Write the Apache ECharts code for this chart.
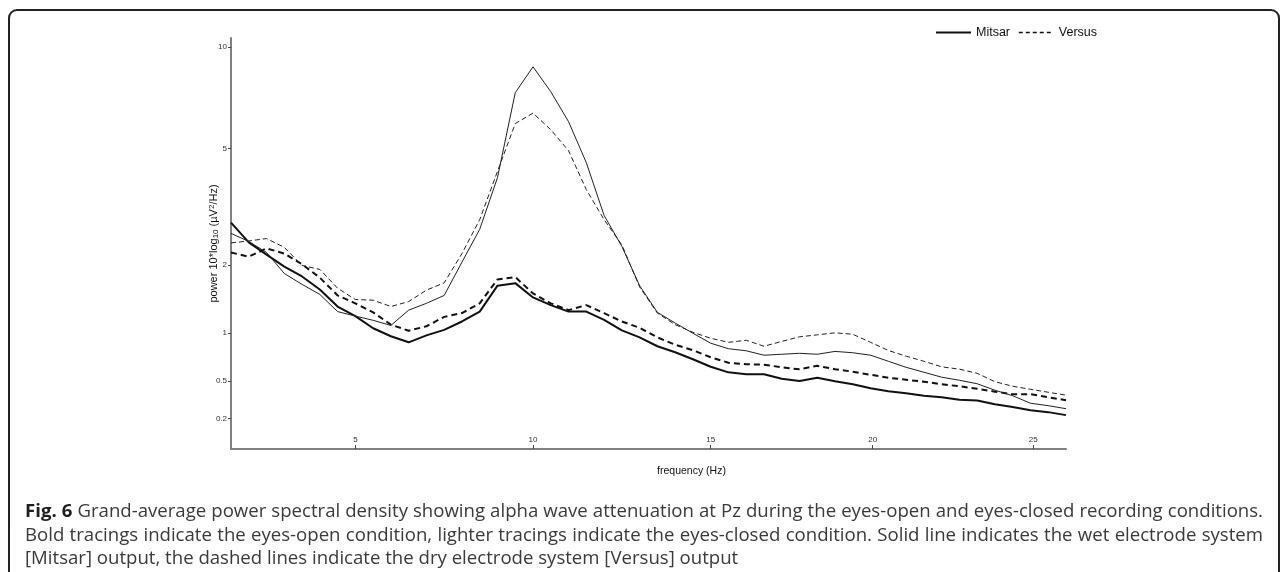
<!DOCTYPE html>
<html><head><meta charset="utf-8">
<script src="https://cdn.jsdelivr.net/npm/echarts@6/dist/echarts.min.js"></script>
<style>html,body{margin:0;padding:0;background:#fff}#c{width:1281px;height:572px}</style>
</head><body><div id="c"></div>
<script>
// frequency bins (Hz)
const freqs = [1.5,2,2.5,3,3.5,4,4.5,5,5.5,6,6.5,7,7.5,8,8.5,9,9.5,10,10.5,11,11.5,12,12.5,13,13.5,14,14.5,15,15.5,16,16.5,17,17.5,18,18.5,19,19.5,20,20.5,21,21.5,22,22.5,23,23.5,24,24.5,25];
// eyes-open (bold)
const mitsarOpen = [2.86,2.43,2.19,1.97,1.8,1.59,1.34,1.21,1.055,0.96,0.89,0.97,1.036,1.14,1.27,1.65,1.69,1.47,1.36,1.27,1.27,1.16,1.03,0.947,0.846,0.781,0.708,0.634,0.58,0.562,0.562,0.521,0.5,0.53,0.498,0.472,0.437,0.412,0.395,0.374,0.362,0.342,0.335,0.306,0.284,0.26,0.246,0.224];
const versusOpen = [2.23,2.15,2.31,2.21,2.01,1.78,1.5,1.385,1.26,1.1,1.025,1.08,1.2,1.25,1.385,1.75,1.79,1.53,1.385,1.29,1.36,1.25,1.14,1.06,0.947,0.862,0.803,0.729,0.673,0.658,0.654,0.628,0.609,0.643,0.61,0.586,0.557,0.53,0.512,0.494,0.472,0.454,0.433,0.408,0.387,0.387,0.362,0.338];
// eyes-closed (light)
const mitsarClosed = [2.62,2.45,2.23,1.85,1.67,1.515,1.27,1.21,1.155,1.09,1.29,1.385,1.5,2.05,2.71,4.05,7.38,8.78,7.43,6.05,4.52,3.03,2.35,1.65,1.26,1.12,0.995,0.88,0.819,0.797,0.75,0.76,0.77,0.76,0.79,0.776,0.75,0.688,0.628,0.581,0.535,0.507,0.476,0.42,0.374,0.314,0.295,0.272];
const versusClosed = [2.42,2.46,2.51,2.33,1.99,1.92,1.61,1.44,1.43,1.34,1.41,1.58,1.695,2.21,2.93,4.24,5.97,6.42,5.72,4.93,3.7,2.93,2.38,1.63,1.25,1.1,1.006,0.936,0.89,0.913,0.846,0.9,0.953,0.976,1.0,0.983,0.89,0.8,0.74,0.688,0.633,0.61,0.571,0.494,0.454,0.428,0.403,0.379];
// tick labels
const yTickLabels = [0.2,0.5,1,2,5,10];
const xTickLabels = ['5','10','15','20','25'];
const xTickAt = [5,10,15,19.56,24.08];
// caption lines (lines 1-2 justified, last line natural)
const captionLines = [
  'Fig. 6 Grand-average power spectral density showing alpha wave attenuation at Pz during the eyes-open and eyes-closed recording conditions.',
  'Bold tracings indicate the eyes-open condition, lighter tracings indicate the eyes-closed condition. Solid line indicates the wet electrode system',
  '[Mitsar] output, the dashed lines indicate the dry electrode system [Versus] output'
];

const tf = v => Math.log10(1 + v);
const pts = arr => freqs.map((f, i) => [f, tf(arr[i])]);
const yTickVals = yTickLabels.map(tf);
const nearestIdx = (arr, v) => { let b = 0; arr.forEach((a, i) => { if (Math.abs(a - v) < Math.abs(arr[b] - v)) b = i; }); return b; };

// caption layout
const capSize = 18.6, capLeft = 25, capRight = 1263, capMid = [512, 535.5, 559];
const cv = document.createElement('canvas').getContext('2d');
const fontOf = b => (b ? 'bold ' : '') + capSize + 'px "Open Sans"';
const capGraphics = [];
captionLines.forEach((line, li) => {
  const words = line.split(' ').map((w, wi) => ({t: w, b: li === 0 && wi < 2}));
  words.forEach(w => { cv.font = fontOf(w.b); w.w = cv.measureText(w.t).width; });
  cv.font = fontOf(false);
  const space = cv.measureText(' ').width;
  const sum = words.reduce((s, w) => s + w.w, 0);
  const gap = li < captionLines.length - 1 ? (capRight - capLeft - sum) / (words.length - 1) : space;
  let x = capLeft;
  words.forEach(w => {
    capGraphics.push({type: 'text', x: x, y: capMid[li], silent: true,
      style: {text: w.t, font: fontOf(w.b), fill: w.b ? '#1e1e1e' : '#3a3a3a', textVerticalAlign: 'middle'}});
    x += w.w + gap;
  });
});

const chart = echarts.init(document.getElementById('c'), null, {renderer: 'canvas'});
const lineBase = {type: 'line', showSymbol: false, symbol: 'none', silent: true, animation: false, itemStyle: {color: '#111'}};
chart.setOption({
  animation: false,
  backgroundColor: '#fff',
  grid: {left: 231, right: 215, top: 38, bottom: 123},
  legend: {
    left: 935, top: 26, padding: 0, itemWidth: 35, itemHeight: 14, itemGap: 8,
    textStyle: {fontFamily: 'Liberation Sans', fontSize: 12.5, color: '#111'},
    data: [
      {name: 'Mitsar', itemStyle: {opacity: 0}, lineStyle: {width: 2, type: 'solid', color: '#111'}},
      {name: 'Versus', itemStyle: {opacity: 0}, lineStyle: {width: 1.5, type: [4, 3], color: '#111'}}
    ]
  },
  xAxis: {
    type: 'value', min: 1.5, max: 25,
    axisLine: {lineStyle: {color: '#808080', width: 2}},
    axisTick: {inside: true, length: 4, customValues: xTickAt, lineStyle: {color: '#444', width: 1}},
    axisLabel: {inside: true, margin: 5, customValues: xTickAt, fontSize: 8, fontFamily: 'Liberation Sans', color: '#333',
      formatter: v => xTickLabels[nearestIdx(xTickAt, v)]},
    splitLine: {show: false},
    name: 'frequency (Hz)', nameLocation: 'middle', nameGap: 17, nameMoveOverlap: false,
    nameTextStyle: {fontFamily: 'Liberation Sans', fontSize: 10.5, color: '#111', padding: [0, 0, 0, 86]}
  },
  yAxis: {
    type: 'value', min: 0, max: 1.065,
    axisLine: {lineStyle: {color: '#808080', width: 2}},
    axisTick: {length: 3, customValues: yTickVals, lineStyle: {color: '#444', width: 1}},
    axisLabel: {margin: 4, customValues: yTickVals, fontSize: 8, fontFamily: 'Liberation Sans', color: '#333',
      formatter: v => String(yTickLabels[nearestIdx(yTickVals, v)])},
    splitLine: {show: false},
    name: 'power 10*log{sub|10} (µV{sup|2}/Hz)', nameLocation: 'middle', nameGap: 11, nameRotate: 90, nameMoveOverlap: false,
    nameTextStyle: {fontFamily: 'Liberation Sans', fontSize: 11, color: '#111',
      rich: {sub: {fontSize: 8, fontFamily: 'Liberation Sans', color: '#111', verticalAlign: 'bottom', padding: [4, 0, 0, 0]},
             sup: {fontSize: 8, fontFamily: 'Liberation Sans', color: '#111', verticalAlign: 'top', padding: [0, 0, 4, 0]}}}
  },
  series: [
    Object.assign({}, lineBase, {name: 'Mitsar', data: pts(mitsarOpen), lineStyle: {color: '#111', width: 2, type: 'solid'}}),
    Object.assign({}, lineBase, {name: 'Versus', data: pts(versusOpen), lineStyle: {color: '#111', width: 2, type: [6, 4]}}),
    Object.assign({}, lineBase, {name: 'Mitsar', data: pts(mitsarClosed), lineStyle: {color: '#222', width: 1, type: 'solid'}}),
    Object.assign({}, lineBase, {name: 'Versus', data: pts(versusClosed), lineStyle: {color: '#222', width: 1, type: [5, 3]}})
  ],
  graphic: [
    {type: 'rect', silent: true, shape: {x: 9, y: 10, width: 1270, height: 700, r: 8},
     style: {fill: 'none', stroke: '#222', lineWidth: 2}}
  ].concat(capGraphics)
});
</script>
</body></html>
